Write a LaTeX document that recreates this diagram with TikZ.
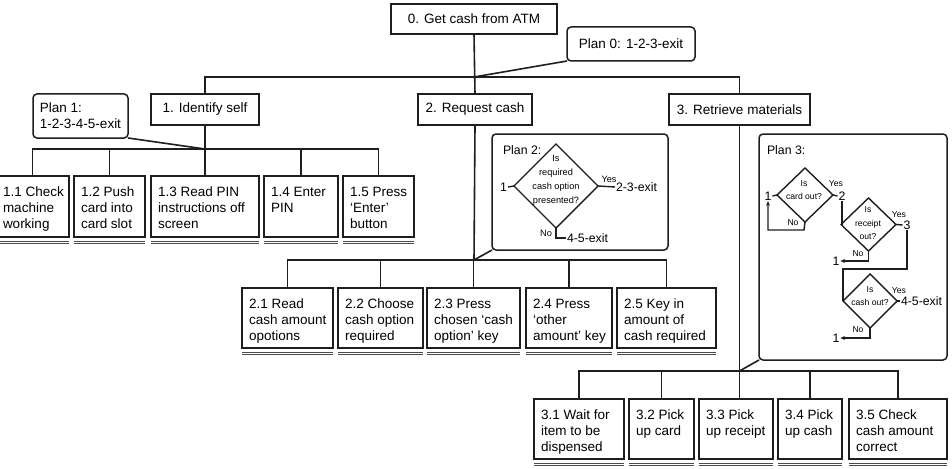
\documentclass[tikz,border=0pt]{standalone}
\usepackage{fontspec}
\setmainfont{Liberation Sans}
\usetikzlibrary{shapes.geometric,arrows.meta}
\definecolor{ink}{HTML}{1E1E1E}
\newcommand\fsmain{\fontsize{13.5}{16}\selectfont}
\newcommand\fsplan{\fontsize{12.3}{15}\selectfont}
\newcommand\fsdia{\fontsize{9.2}{14}\selectfont}
\newcommand\fsdib{\fontsize{8.6}{13.5}\selectfont}
\newcommand\leafstrut{\rule{0pt}{10pt}}
\newcommand\leafline[1]{%
  \draw[uln] ([yshift=-4pt]#1.south west) -- ([yshift=-4pt]#1.south east);
  \draw[uln] ([yshift=-6.3pt]#1.south west) -- ([yshift=-6.3pt]#1.south east);}
\begin{document}
\begin{tikzpicture}[x=1pt,y=-1pt,
  every node/.style={inner sep=0pt,outer sep=0pt},
  tbox/.style={draw=ink,line width=1.6pt,font=\fsmain,align=center},
  leaf/.style={draw=ink,line width=1.6pt,anchor=north west},
  lt/.style={anchor=north west,align=left,font=\fsmain},
  plan/.style={draw=ink,line width=1.5pt,rounded corners=4pt},
  con/.style={draw=ink,line width=1.6pt},
  uln/.style={draw=ink!80,line width=1pt},
  dia/.style={diamond,draw=ink,line width=1.4pt,inner sep=0pt},
  fl/.style={draw=ink,line width=1.4pt},
  arr/.style={fl,-{Stealth[length=4.5pt,width=4pt]}},
  num/.style={font=\fsplan,inner sep=1pt},
  yn/.style={font=\fsdia},
  ynb/.style={font=\fsdib}]
\fill[white] (0,0) rectangle (952,468);
\useasboundingbox (0,0) rectangle (952,468);

% ---- top levels
\node[tbox,minimum width=166pt,minimum height=30pt] (n0) at (474,19) {0. Get cash from ATM};
\node[tbox,plan,minimum width=128pt,minimum height=34pt] (p0) at (631,44) {Plan 0: 1-2-3-exit};
\node[tbox,minimum width=108pt,minimum height=31pt] (n1) at (205,109.5) {1. Identify self};
\node[tbox,minimum width=114pt,minimum height=31pt] (n2) at (475,109.5) {2. Request cash};
\node[tbox,minimum width=141pt,minimum height=31pt] (n3) at (739.5,109.5) {3. Retrieve materials};
\node[tbox,plan,align=left,minimum width=95pt,minimum height=44pt] (p1) at (80.5,116) {Plan 1:\\1-2-3-4-5-exit};

\coordinate (b0) at (474,77);
\coordinate (b1) at (205,149);
\coordinate (b2) at (474,260);
\coordinate (b3) at (739.5,371);

\draw[con] (n0.south) -- (n2.north);
\draw[con] (n1.north) |- (b0) -| (n3.north);
\draw[con] (p0.south west) -- (b0);

% ---- level 1 leaves
\node[leaf,minimum width=73pt,minimum height=61pt] (n11) at (-4,176) {};
\node[leaf,minimum width=71pt,minimum height=61pt] (n12) at (74,176) {};
\node[leaf,minimum width=108pt,minimum height=61pt] (n13) at (151,176) {};
\node[leaf,minimum width=74pt,minimum height=61pt] (n14) at (264,176) {};
\node[leaf,minimum width=71pt,minimum height=61pt] (n15) at (343,176) {};
\node[lt] (t11) at ([xshift=7pt,yshift=-10pt]n11.north west) {\leafstrut 1.1 Check\\machine\\working};
\node[lt] (t12) at ([xshift=7pt,yshift=-10pt]n12.north west) {\leafstrut 1.2 Push\\card into\\card slot};
\node[lt] (t13) at ([xshift=7pt,yshift=-10pt]n13.north west) {\leafstrut 1.3 Read PIN\\instructions off\\screen};
\node[lt] (t14) at ([xshift=7pt,yshift=-10pt]n14.north west) {\leafstrut 1.4 Enter\\PIN};
\node[lt] (t15) at ([xshift=7pt,yshift=-10pt]n15.north west) {\leafstrut 1.5 Press\\‘Enter’\\button};
\draw[con] (n1.south) -- (b1);
\draw[con] (n11.north) |- (b1);
\draw[con] (n12.north) |- (b1);
\draw[con] (n13.north) |- (b1);
\draw[con] (n14.north) |- (b1);
\draw[con] (n15.north) |- (b1);
\draw[con] (p1.south east) -- (b1);
\leafline{n11}\leafline{n12}\leafline{n13}\leafline{n14}\leafline{n15}

% ---- plan 2
\node[plan,minimum width=176pt,minimum height=116pt] (p2) at (580,192) {};
\node[font=\fsplan,anchor=west] (p2t) at (503,150) {Plan 2:};
\node[dia,minimum width=84pt,minimum height=84pt] (d2) at (556,186) {};
\node[font=\fsdia,align=center] (d2t) at (556,180) {Is\\required\\cash option\\presented?};
\node[num,anchor=east] (p2a) at (508,187) {1};
\node[num,anchor=west] (p2b) at (615,187) {2-3-exit};
\node[num,anchor=west] (p2c) at (566,238) {4-5-exit};
\node[yn] (p2y) at (609,179) {Yes};
\node[yn] (p2n) at (546,233) {No};
\draw[fl] (p2a.east) -- (d2.west);
\draw[fl] (d2.east) -- (p2b.west);
\draw[fl] (d2.south) |- (p2c.west);

% ---- level 2 leaves
\node[leaf,minimum width=91pt,minimum height=60pt] (n21) at (242,288) {};
\node[leaf,minimum width=85pt,minimum height=60pt] (n22) at (338,288) {};
\node[leaf,minimum width=93pt,minimum height=60pt] (n23) at (427,288) {};
\node[leaf,minimum width=86pt,minimum height=60pt] (n24) at (526,288) {};
\node[leaf,minimum width=99pt,minimum height=60pt] (n25) at (617,288) {};
\node[lt] (t21) at ([xshift=7pt,yshift=-10pt]n21.north west) {\leafstrut 2.1 Read\\cash amount\\opotions};
\node[lt] (t22) at ([xshift=7pt,yshift=-10pt]n22.north west) {\leafstrut 2.2 Choose\\cash option\\required};
\node[lt] (t23) at ([xshift=7pt,yshift=-10pt]n23.north west) {\leafstrut 2.3 Press\\chosen ‘cash\\option’ key};
\node[lt] (t24) at ([xshift=7pt,yshift=-10pt]n24.north west) {\leafstrut 2.4 Press\\‘other\\amount’ key};
\node[lt] (t25) at ([xshift=7pt,yshift=-10pt]n25.north west) {\leafstrut 2.5 Key in\\amount of\\cash required};
\draw[con] (n2.south) -- (b2);
\draw[con] (n21.north) |- (b2);
\draw[con] (n22.north) |- (b2);
\draw[con] (n23.north) |- (b2);
\draw[con] (n24.north) |- (b2);
\draw[con] (n25.north) |- (b2);
\draw[con] (p2.south west) -- (b2);
\leafline{n21}\leafline{n22}\leafline{n23}\leafline{n24}\leafline{n25}

% ---- plan 3
\node[plan,minimum width=188pt,minimum height=226pt] (p3) at (853,247) {};
\node[font=\fsplan,anchor=west] (p3t) at (767,150) {Plan 3:};
\node[dia,minimum width=56pt,minimum height=54pt] (d31) at (805,195) {};
\node[dia,minimum width=55pt,minimum height=53pt] (d32) at (868.5,224.5) {};
\node[dia,minimum width=54pt,minimum height=54pt] (d33) at (870,301) {};
\node[font=\fsdib,align=center] (d31t) at (804,190) {Is\\card out?};
\node[font=\fsdib,align=center] (d32t) at (868,223.5) {Is\\receipt\\out?};
\node[font=\fsdib,align=center] (d33t) at (870,296) {Is\\cash out?};
\node[num] (q1) at (768,196) {1};
\node[num] (q2) at (842,196) {2};
\node[num] (q3) at (907,225) {3};
\node[num] (q4) at (836,261) {1};
\node[num] (q5) at (836,338) {1};
\node[num,anchor=west] (q6) at (900,301) {4-5-exit};
\node[ynb] (y1) at (836,184) {Yes};
\node[ynb] (y2) at (899,215) {Yes};
\node[ynb] (y3) at (899,291) {Yes};
\node[ynb] (m1) at (793,223) {No};
\node[ynb] (m2) at (858,254) {No};
\node[ynb] (m3) at (858,330) {No};
\coordinate (c1) at (804,230);
\coordinate (c3) at (843,269);
\draw[fl] (q1.east) -- (d31.west);
\draw[arr] (d31.south) -- (c1) -| (q1.south);
\draw[fl] (d31.east) -- (q2.west);
\draw[fl] (q2.south) |- (d32.west);
\draw[fl] (d32.east) -- (q3.west);
\draw[arr] (d32.south) |- (q4.east);
\draw[fl] (q3.south) |- (c3) -- (d33.west);
\draw[fl] (d33.east) -- (q6.west);
\draw[arr] (d33.south) |- (q5.east);

% ---- level 3 leaves
\node[leaf,minimum width=90pt,minimum height=60pt] (n31) at (534,399) {};
\node[leaf,minimum width=65pt,minimum height=60pt] (n32) at (629,399) {};
\node[leaf,minimum width=74pt,minimum height=60pt] (n33) at (699,399) {};
\node[leaf,minimum width=64pt,minimum height=60pt] (n34) at (778,399) {};
\node[leaf,minimum width=98pt,minimum height=60pt] (n35) at (849,399) {};
\node[lt] (t31) at ([xshift=7pt,yshift=-10pt]n31.north west) {\leafstrut 3.1 Wait for\\item to be\\dispensed};
\node[lt] (t32) at ([xshift=7pt,yshift=-10pt]n32.north west) {\leafstrut 3.2 Pick\\up card};
\node[lt] (t33) at ([xshift=7pt,yshift=-10pt]n33.north west) {\leafstrut 3.3 Pick\\up receipt};
\node[lt] (t34) at ([xshift=7pt,yshift=-10pt]n34.north west) {\leafstrut 3.4 Pick\\up cash};
\node[lt] (t35) at ([xshift=7pt,yshift=-10pt]n35.north west) {\leafstrut 3.5 Check\\cash amount\\correct};
\draw[con] (n3.south) -- (b3);
\draw[con] (n31.north) |- (b3);
\draw[con] (n32.north) |- (b3);
\draw[con] (b3) -- (b3 |- n33.north);
\draw[con] (n34.north) |- (b3);
\draw[con] (n35.north) |- (b3);
\draw[con] (p3.south west) -- (b3);
\leafline{n31}\leafline{n32}\leafline{n33}\leafline{n34}\leafline{n35}
\end{tikzpicture}
\end{document}
